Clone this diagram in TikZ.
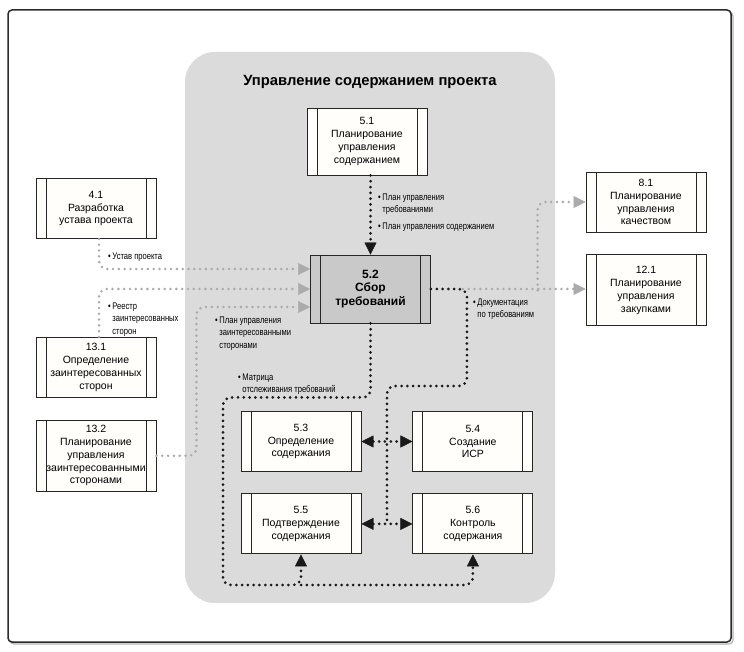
\documentclass[tikz,border=0pt]{standalone}
\usepackage{fontspec}
\setmainfont{Liberation Sans}
\newfontfamily\narrowfont[FakeStretch=0.79]{Liberation Sans}
\usetikzlibrary{arrows.meta,positioning,calc}

\definecolor{panelgray}{HTML}{DBDBDB}
\definecolor{keygray}{HTML}{C9C9C9}
\definecolor{dotgray}{HTML}{ABABAB}
\definecolor{boxfill}{HTML}{FFFEFA}
\definecolor{framegray}{HTML}{2B2B2B}

\newcommand{\bul}[1]{\textbullet\,\begin{tabular}[t]{@{}l@{}}#1\end{tabular}}

\begin{document}
\begin{tikzpicture}[
        x=1pt, y=-1pt,
        proc/.style={draw=black!85, line width=0.9pt, fill=boxfill, minimum width=120pt, minimum height=60pt,
          align=center, inner sep=2pt, font=\fontsize{10.5}{12.8}\selectfont,
          path picture={
            \draw[black!85, line width=0.9pt] ([xshift=10pt]path picture bounding box.north west) -- ([xshift=10pt]path picture bounding box.south west);
            \draw[black!85, line width=0.9pt] ([xshift=-10pt]path picture bounding box.north east) -- ([xshift=-10pt]path picture bounding box.south east);
          }},
        tallproc/.style={proc, minimum height=71pt},
        keyproc/.style={proc, fill=keygray, minimum height=68pt, font=\fontsize{12}{13.5}\selectfont\bfseries},
        lbl/.style={font=\narrowfont\fontsize{9.6}{12.2}\selectfont, inner sep=0pt, anchor=north west, align=left},
        bdot/.style={line width=3pt, dash pattern=on 0pt off 5.8pt, line cap=round, black!90},
        gdot/.style={bdot, dotgray, line width=2.8pt},
        arr/.style={-{Triangle[length=12pt,width=12pt,line width=0.4pt]}},
        barr/.style={{Triangle[length=12pt,width=12pt,line width=0.4pt]}-{Triangle[length=12pt,width=12pt,line width=0.4pt]}},
      ]
      \useasboundingbox (0,0) rectangle (744,652);

      \draw[gray!60, line width=1.2pt, rounded corners=4pt] (10,12) rectangle (733,644);
      \draw[framegray, fill=white, line width=1.5pt, rounded corners=4pt] (8,10) rectangle (731,642);

      \fill[panelgray, rounded corners=30pt] (185,52) rectangle (555,603);
      \node[font=\fontsize{14.8}{16}\selectfont\bfseries] (title) at (370,82) {Управление содержанием проекта};

      \node[proc, minimum height=67pt] (k51) at (367,141.5) {5.1\\Планирование\\управления\\содержанием};
      \node[keyproc] (k52) at (370.5,289) {5.2\\Сбор\\требований};

      \node[proc] (k41) at (96,208.5) {4.1\\Разработка\\устава проекта};
      \node[proc, below=98pt of k41] (k131) {13.1\\Определение\\заинтересованных\\сторон};
      \node[tallproc, below=22pt of k131] (k132) {13.2\\Планирование\\управления\\заинтересованными\\сторонами};

      \node[proc] (k81) at (646,202) {8.1\\Планирование\\управления\\качеством};
      \node[tallproc, below=22pt of k81] (k121) {12.1\\Планирование\\управления\\закупками};

      \node[proc] (k53) at (301,441.5) {5.3\\Определение\\содержания};
      \node[proc, right=51pt of k53] (k54) {5.4\\Создание\\ИСР};
      \node[proc, below=21.5pt of k53] (k55) {5.5\\Подтверждение\\содержания};
      \node[proc, right=51pt of k55] (k56) {5.6\\Контроль\\содержания};

      \coordinate (jdoc) at ([xshift=32pt]k52.east);
      \coordinate (jq) at ([xshift=-48pt]k121.west);
      \coordinate (m56) at ($(k55.east)!0.5!(k56.west)$);
      \coordinate (bl) at (223,585);

      \draw[bdot, arr] (k51.south -| k52.north) -- (k52.north);

      \draw[gdot, arr, rounded corners=8pt] ([xshift=3pt]k41.south) |- ([yshift=20pt]k52.west);
      \draw[gdot, arr, rounded corners=8pt] ([xshift=3pt]k131.north) |- (k52.west);
      \draw[gdot, arr, rounded corners=8pt] (k132.east) -- ++(40,0) |- ([yshift=-18pt]k52.west);

      \draw[gdot, arr] (jdoc) -- (jdoc -| k121.west);
      \draw[gdot, arr, rounded corners=8pt] (jq) |- (k81.west);
      \draw[bdot, rounded corners=8pt] (k52.east) -- ++(36,0) -- ++(0,97) -| (m56);

      \draw[bdot, arr, rounded corners=8pt] (k52.south) -- ++(0,74) -| (bl) -| (k55.south);
      \draw[bdot, arr, rounded corners=8pt] (k55.south |- bl) -| (k56.south);

      \draw[bdot, barr] (k53.east) -- (k54.west);
      \draw[bdot, barr] (k55.east) -- (k56.west);

      \node[lbl] (l1) at (378,192) {\bul{План управления\\требованиями}};
      \node[lbl] (l2) at (378,221) {\bul{План управления содержанием}};
      \node[lbl] (l3) at (108,251) {\bul{Устав проекта}};
      \node[lbl] (l4) at (108,301) {\bul{Реестр\\заинтересованных\\сторон}};
      \node[lbl] (l5) at (215,315) {\bul{План управления\\заинтересованными\\сторонами}};
      \node[lbl] (l6) at (473,297) {\bul{Документация\\по требованиям}};
      \node[lbl] (l7) at (238,372) {\bul{Матрица\\отслеживания требований}};

    \end{tikzpicture}
\end{document}
